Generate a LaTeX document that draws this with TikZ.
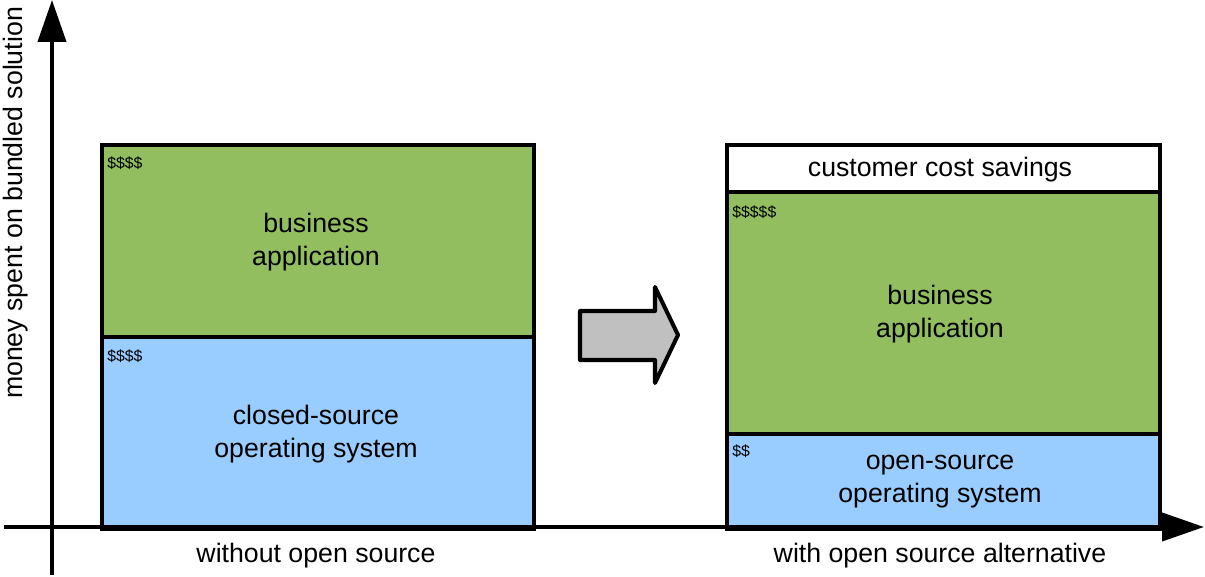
\documentclass[tikz,border=0pt]{standalone}
\usepackage{fontspec}
\setmainfont{Liberation Sans}
\usepackage{xcolor}
\usetikzlibrary{positioning,arrows.meta}

\definecolor{appgreen}{RGB}{146,190,96}
\definecolor{osblue}{RGB}{153,204,255}
\definecolor{shiftgray}{RGB}{192,192,192}

\begin{document}
\begin{tikzpicture}[x=0.02cm, y=-0.02cm,
  font=\fontsize{15.2}{18.8}\selectfont,
  every node/.style={align=center},
  part/.style={draw, line width=2.3pt, inner sep=0pt, anchor=north west},
  app/.style={part, fill=appgreen},
  os/.style={part, fill=osblue},
  saved/.style={part, fill=white},
  cost/.style={font=\fontsize{9}{10}\selectfont, anchor=west, inner sep=0pt},
  axis/.style={line width=2.3pt, -{Triangle[length=0.84cm, width=0.56cm]}}]

\useasboundingbox (0,0) rectangle (1205,577);

% ---------------- axes ----------------
\coordinate (ybot) at (52,575);
\coordinate (ytop) at (52,0);
\coordinate (xleft) at (4,527);
\coordinate (xright) at (1204,527);
\draw[axis] (ybot) -- (ytop);
\node[rotate=90] (ylab) at (16,203) {money spent on bundled solution};

% ---------------- without open source ----------------
\node[app, minimum width=8.64cm, minimum height=3.84cm] (lapp) at (100,143) {};
\node[os, minimum width=8.64cm, minimum height=3.84cm] (los) at (100,335) {};
\node (lapptxt) at (316,242) {business\\application};
\node (lostxt) at (316,434) {closed-source\\operating system};
\node[cost] (lappcost) at (107,163) {\$\$\$\$};
\node[cost] (loscost) at (107,356) {\$\$\$\$};

% ---------------- with open source ----------------
\node[saved, minimum width=8.66cm, minimum height=0.94cm] (rsave) at (725,143) {};
\node[app, minimum width=8.66cm, minimum height=4.84cm] (rapp) at (725,190) {};
\node[os, minimum width=8.66cm, minimum height=1.9cm] (ros) at (725,432) {};
\node (rsavetxt) at (940,170) {customer cost savings};
\node (rapptxt) at (940,314) {business\\application};
\node (rostxt) at (940,482) {open-source\\operating system};
\node[cost] (rappcost) at (732,212) {\$\$\$\$\$};
\node[cost] (roscost) at (732,451) {\$\$};

\draw[axis] (xleft) -- (xright);

% ---------------- shift arrow ----------------
\draw[line width=2.3pt, fill=shiftgray, line join=round]
  (580,311) -- (655,311) -- (655,287) -- (678,335) -- (655,383) -- (655,360) -- (580,360) -- cycle;

% ---------------- labels ----------------
\node (lcap) at (316,556) {without open source};
\node (rcap) at (940,556) {with open source alternative};
\end{tikzpicture}
\end{document}
